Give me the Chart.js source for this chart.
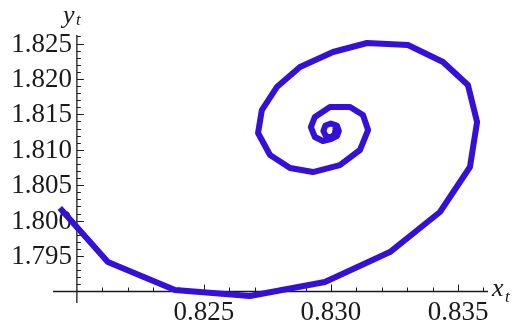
<!DOCTYPE html>
<html>
<head>
<meta charset="utf-8">
<script src="https://cdn.jsdelivr.net/npm/chart.js@4"></script>
<style>
  html, body { margin: 0; padding: 0; background: #fff; }
  canvas { display: block; }
</style>
</head>
<body>
<canvas id="phaseChart" width="520" height="324"></canvas>
<script>
// --- Trajectory (x_t, y_t) ---
const xValues = [
    0.81933, 0.82122, 0.82386, 0.82681, 0.82976, 0.83232, 0.83429, 0.83547,
    0.83575, 0.83539, 0.83441, 0.83303, 0.83142, 0.83008, 0.82878, 0.82787,
    0.82728, 0.82713, 0.82760, 0.82839, 0.82929, 0.83035, 0.83114, 0.83146,
    0.83126, 0.83075, 0.82996, 0.829367, 0.829209, 0.829367, 0.829681, 0.829996,
    0.830232, 0.830311, 0.830232, 0.829996, 0.829780, 0.829701, 0.829799, 0.829996,
    0.830153, 0.830173, 0.830075
];
const yValues = [
    1.80178, 1.79416, 1.79021, 1.78936, 1.79134, 1.79557, 1.80122, 1.80757,
    1.81392, 1.81914, 1.82239, 1.82479, 1.82507, 1.82380, 1.82168, 1.81886,
    1.81561, 1.81237, 1.80926, 1.80743, 1.80686, 1.80785, 1.80997, 1.81279,
    1.81491, 1.81604, 1.81604, 1.81463, 1.813215, 1.811804, 1.811239, 1.811521,
    1.811945, 1.812650, 1.813427, 1.813709, 1.813427, 1.812650, 1.811945, 1.811733,
    1.812227, 1.812791, 1.812721
];

// --- Axes ---
const xTickValues = [0.825, 0.830, 0.835];
const xTickLabels = ['0.825', '0.830', '0.835'];
const yTickValues = [1.795, 1.800, 1.805, 1.810, 1.815, 1.820, 1.825];
const yTickLabels = ['1.795', '1.800', '1.805', '1.810', '1.815', '1.820', '1.825'];
const axisOrigin = { x: 0.820, y: 1.790 };
const minorStep = 0.001;

const points = xValues.map((x, i) => ({ x: x, y: yValues[i] }));

const serif = '"Liberation Serif", "Times New Roman", serif';
const inkColor = '#1a1a1a';

// Draws crossing axes with inward ticks, labels and axis titles
const crossAxes = {
    id: 'crossAxes',
    beforeDatasetsDraw(chart) {
        const ctx = chart.ctx;
        const xs = chart.scales.x;
        const ys = chart.scales.y;
        const x0 = xs.getPixelForValue(axisOrigin.x);
        const y0 = ys.getPixelForValue(axisOrigin.y);

        ctx.save();
        ctx.strokeStyle = inkColor;
        ctx.lineWidth = 1.3;

        // axis lines span the whole plot range
        ctx.beginPath();
        ctx.moveTo(xs.left, y0);
        ctx.lineTo(xs.right, y0);
        ctx.moveTo(x0, ys.top);
        ctx.lineTo(x0, ys.bottom);
        ctx.stroke();

        // x ticks (every 0.001, longer at labelled values)
        ctx.lineWidth = 1;
        ctx.beginPath();
        for (let v = axisOrigin.x + minorStep; v <= xs.max + 1e-9; v += minorStep) {
            const px = Math.round(xs.getPixelForValue(v)) + 0.5;
            const major = xTickValues.some(t => Math.abs(t - v) < 1e-7);
            ctx.moveTo(px, y0);
            ctx.lineTo(px, y0 - (major ? 7 : 4));
        }
        // y ticks
        for (let v = axisOrigin.y + minorStep; v <= ys.max + 1e-9; v += minorStep) {
            const py = Math.round(ys.getPixelForValue(v)) + 0.5;
            const major = yTickValues.some(t => Math.abs(t - v) < 1e-7);
            ctx.moveTo(x0, py);
            ctx.lineTo(x0 + (major ? 7 : 4), py);
        }
        ctx.stroke();

        // tick labels
        ctx.fillStyle = inkColor;
        ctx.font = '27px ' + serif;
        ctx.textAlign = 'center';
        ctx.textBaseline = 'top';
        xTickValues.forEach((v, i) => {
            ctx.fillText(xTickLabels[i], xs.getPixelForValue(v), y0 + 8);
        });
        ctx.textAlign = 'right';
        ctx.textBaseline = 'middle';
        yTickValues.forEach((v, i) => {
            ctx.fillText(yTickLabels[i], x0 - 5, ys.getPixelForValue(v) + 1);
        });

        // axis titles: x_t and y_t
        ctx.textAlign = 'left';
        ctx.textBaseline = 'alphabetic';
        ctx.font = 'italic 26px ' + serif;
        ctx.fillText('x', xs.right + 4, y0 + 4);
        ctx.fillText('y', x0 - 14, ys.top - 12);
        ctx.font = 'italic 17px ' + serif;
        ctx.fillText('t', xs.right + 17, y0 + 10);
        ctx.fillText('t', x0 - 1, ys.top - 10);

        ctx.restore();
    }
};

new Chart(document.getElementById('phaseChart'), {
    type: 'scatter',
    data: {
        datasets: [{
            data: points,
            showLine: true,
            borderColor: '#3510d8',
            borderWidth: 6,
            borderJoinStyle: 'round',
            borderCapStyle: 'butt',
            pointRadius: 0,
            pointHoverRadius: 0,
            tension: 0,
            clip: false
        }]
    },
    options: {
        responsive: false,
        animation: false,
        devicePixelRatio: 1,
        layout: {
            padding: { left: 53, right: 32, top: 35, bottom: 21 }
        },
        scales: {
            x: { type: 'linear', min: 0.81906, max: 0.83618, display: false },
            y: { type: 'linear', min: 1.78838, max: 1.82620, display: false }
        },
        plugins: {
            legend: { display: false },
            tooltip: { enabled: false }
        }
    },
    plugins: [crossAxes]
});
</script>
</body>
</html>
